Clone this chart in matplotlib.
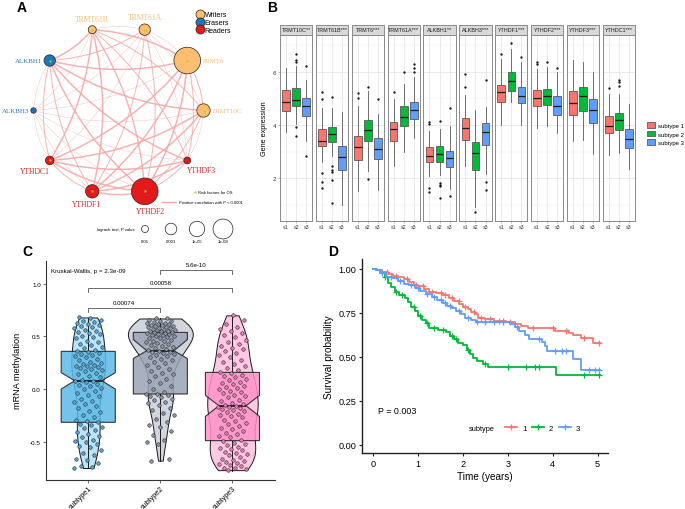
import numpy as np
import matplotlib
matplotlib.use("Agg")
import matplotlib.pyplot as plt
from matplotlib.patches import Circle, FancyArrowPatch, Rectangle, Patch
from matplotlib.lines import Line2D

plt.rcParams["font.family"] = ["Liberation Sans", "DejaVu Sans"]
plt.rcParams["axes.unicode_minus"] = False

# ======================= DATA =======================
# ---- Panel A: network ----
net_genes = ["TRMT61B", "TRMT61A", "TRMT6", "TRMT10C", "YTHDF3",
             "YTHDF2", "YTHDF1", "YTHDC1", "ALKBH3", "ALKBH1"]
net_roles = ["Writers", "Writers", "Writers", "Writers", "Readers",
             "Readers", "Readers", "Readers", "Erasers", "Erasers"]
logrank_p = [2.5e-2, 1.2e-3, 1.6e-14, 1.3e-4, 5.5e-2,
             1.6e-14, 1.3e-4, 1.6e-2, 1.4e-1, 1.2e-3]
edge_from = ["TRMT61B", "TRMT61B", "TRMT61B", "TRMT61B", "TRMT61B", "TRMT61B", "TRMT61B", "TRMT61B", "TRMT61B",
             "TRMT61A", "TRMT61A", "TRMT61A", "TRMT61A", "TRMT61A", "TRMT61A", "TRMT61A", "TRMT61A",
             "TRMT6", "TRMT6", "TRMT6", "TRMT6", "TRMT6", "TRMT6", "TRMT6",
             "TRMT10C", "TRMT10C", "TRMT10C", "TRMT10C", "TRMT10C", "TRMT10C",
             "YTHDF3", "YTHDF3", "YTHDF3", "YTHDF3", "YTHDF3",
             "YTHDF2", "YTHDF2", "YTHDF2", "YTHDF2",
             "YTHDF1", "YTHDF1", "YTHDF1",
             "YTHDC1", "YTHDC1", "ALKBH3"]
edge_to = ["TRMT61A", "TRMT6", "TRMT10C", "YTHDF3", "YTHDF2", "YTHDF1", "YTHDC1", "ALKBH3", "ALKBH1",
           "TRMT6", "TRMT10C", "YTHDF3", "YTHDF2", "YTHDF1", "YTHDC1", "ALKBH3", "ALKBH1",
           "TRMT10C", "YTHDF3", "YTHDF2", "YTHDF1", "YTHDC1", "ALKBH3", "ALKBH1",
           "YTHDF3", "YTHDF2", "YTHDF1", "YTHDC1", "ALKBH3", "ALKBH1",
           "YTHDF2", "YTHDF1", "YTHDC1", "ALKBH3", "ALKBH1",
           "YTHDF1", "YTHDC1", "ALKBH3", "ALKBH1",
           "YTHDC1", "ALKBH3", "ALKBH1",
           "ALKBH3", "ALKBH1", "ALKBH1"]
edge_rho = [0.35, 0.65, 0.50, 0.50, 0.62, 0.65, 0.65, 0.35, 0.65,
            0.35, 0.35, 0.35, 0.50, 0.50, 0.35, 0.35, 0.50,
            0.50, 0.50, 0.65, 0.65, 0.65, 0.35, 0.65,
            0.35, 0.50, 0.65, 0.65, 0.35, 0.65,
            0.50, 0.65, 0.65, 0.35, 0.65,
            0.65, 0.65, 0.35, 0.65,
            0.50, 0.35, 0.50,
            0.35, 0.50, 0.35]
size_legend_p = [0.05, 0.001, 1e-5, 1e-8]
size_legend_labels = ["0.05", "0.001", "1e-05", "1e-08"]

# ---- Panel B: boxplots ----
b_genes = ["TRMT10C**", "TRMT61B***", "TRMT6***", "TRMT61A***", "ALKBH1**",
           "ALKBH3***", "YTHDF1***", "YTHDF2***", "YTHDF3***", "YTHDC1***"]
b_groups = ["s1", "s2", "s3"]
b_med = [[4.88, 4.95, 4.72], [3.41, 3.66, 2.81], [3.19, 3.81, 3.10], [3.85, 4.29, 4.58],
         [2.83, 2.91, 2.75], [3.89, 2.94, 3.73], [5.23, 5.64, 5.10], [5.01, 5.08, 4.73],
         [4.83, 5.08, 4.58], [3.95, 4.19, 3.48]]
b_q1 = [[4.54, 4.73, 4.35], [3.22, 3.35, 2.33], [2.70, 3.41, 2.72], [3.40, 3.95, 4.23],
        [2.60, 2.63, 2.41], [3.45, 2.33, 3.26], [4.85, 5.29, 4.81], [4.70, 4.75, 4.39],
        [4.39, 4.51, 4.08], [3.69, 3.81, 3.13]]
b_q3 = [[5.33, 5.38, 5.01], [3.85, 3.94, 3.22], [3.58, 4.19, 3.53], [4.10, 4.73, 4.85],
        [3.16, 3.20, 3.04], [4.25, 3.35, 4.08], [5.51, 5.98, 5.44], [5.31, 5.35, 5.08],
        [5.29, 5.41, 4.98], [4.33, 4.44, 3.85]]
b_lo = [[3.73, 4.04, 3.41], [2.60, 2.85, 1.01], [1.54, 2.29, 1.58], [2.45, 3.00, 3.50],
        [2.08, 2.13, 1.60], [2.48, 0.91, 2.16], [4.00, 4.88, 4.00], [3.88, 3.95, 3.69],
        [3.39, 3.45, 2.91], [2.89, 2.95, 2.35]]
b_hi = [[6.16, 6.20, 5.70], [4.63, 4.63, 4.48], [4.70, 5.29, 4.41], [4.98, 5.54, 5.79],
        [3.79, 3.85, 3.95], [5.13, 4.58, 4.66], [6.48, 6.85, 6.35], [6.10, 6.19, 5.98],
        [6.45, 6.35, 5.98], [5.16, 5.16, 4.79]]
b_out = [[[], [6.66, 6.45, 6.38, 3.94, 3.60], [6.20, 2.85]],
         [[5.25, 4.97, 2.20, 1.85, 1.64], [5.04, 2.47, 2.33, 2.25, 1.93, 1.07], []],
         [[5.20, 5.00], [5.44, 1.98], [4.98]],
         [[5.25], [6.00], [6.29, 6.13, 5.98]],
         [[4.10, 4.04, 1.63, 1.48], [4.16, 1.83, 1.75, 1.70, 1.25], [4.64, 1.35]],
         [[5.91, 5.41], [0.73], [5.69, 1.88, 1.58]],
         [[6.66], [7.08], [6.56]],
         [[6.38, 6.28], [6.38], [6.16]],
         [[], [], []],
         [[5.38], [5.70, 5.60, 5.45], []]]
b_legend = ["subtype 1", "subtype 2", "subtype 3"]

# ---- Panel C: methylation ----
c_groups = ["subtype1", "subtype2", "subtype3"]
meth_s1 = [-0.75, -0.74, -0.73, -0.70, -0.67, -0.66, -0.63, -0.61, -0.58, -0.55, -0.54, -0.52, -0.50,
           -0.49, -0.48, -0.46, -0.45, -0.43, -0.41, -0.39, -0.37, -0.36, -0.34, -0.33, -0.31,
           -0.30, -0.29, -0.27, -0.25, -0.22, -0.21, -0.18, -0.16, -0.14, -0.12, -0.11, -0.09,
           -0.07, -0.06, -0.04, -0.02, 0.00, 0.01, 0.03, 0.04, 0.05, 0.07, 0.08, 0.08,
           0.09, 0.11, 0.12, 0.14, 0.15, 0.17, 0.18, 0.19, 0.20, 0.21, 0.22, 0.22, 0.23, 0.24,
           0.25, 0.26, 0.28, 0.29, 0.30, 0.31, 0.32, 0.33, 0.34, 0.35, 0.36,
           0.37, 0.39, 0.40, 0.42, 0.43, 0.45, 0.46, 0.48, 0.49, 0.50, 0.52, 0.53, 0.54, 0.55,
           0.56, 0.58, 0.59, 0.60, 0.61, 0.62, 0.63, 0.64, 0.65, 0.66, 0.67, 0.68]
meth_s2 = [-0.68, -0.66, -0.52, -0.50, -0.48, -0.44, -0.40, -0.36, -0.34, -0.31, -0.28, -0.25,
           -0.23, -0.20, -0.18, -0.15, -0.13, -0.12, -0.10, -0.09, -0.08, -0.07, -0.06, -0.05, -0.05,
           -0.03, 0.00, 0.03, 0.06, 0.08, 0.10, 0.12, 0.14, 0.15, 0.17, 0.19, 0.21, 0.23, 0.25,
           0.26, 0.28, 0.29, 0.30, 0.31, 0.32, 0.33, 0.34, 0.35, 0.35, 0.36,
           0.37, 0.38, 0.39, 0.40, 0.41, 0.42, 0.43, 0.44, 0.45, 0.46, 0.46, 0.47, 0.48, 0.48,
           0.49, 0.50, 0.50, 0.51, 0.51, 0.52, 0.52, 0.53, 0.53, 0.54, 0.54,
           0.55, 0.55, 0.55, 0.56, 0.56, 0.57, 0.57, 0.58, 0.58, 0.59, 0.59, 0.60, 0.60, 0.61,
           0.61, 0.62, 0.62, 0.63, 0.63, 0.64, 0.65, 0.65, 0.66, 0.67, 0.67]
meth_s3 = [-0.77, -0.76, -0.75, -0.75, -0.73, -0.72, -0.71, -0.70, -0.69, -0.68, -0.67, -0.66,
           -0.65, -0.63, -0.62, -0.61, -0.60, -0.58, -0.57, -0.56, -0.55, -0.53, -0.52, -0.51, -0.49,
           -0.48, -0.46, -0.45, -0.43, -0.42, -0.40, -0.38, -0.37, -0.35, -0.33, -0.32, -0.30,
           -0.29, -0.27, -0.26, -0.25, -0.24, -0.22, -0.21, -0.20, -0.19, -0.18, -0.17, -0.17, -0.16,
           -0.15, -0.14, -0.13, -0.11, -0.10, -0.08, -0.07, -0.06, -0.04, -0.03, -0.02, 0.00,
           0.01, 0.02, 0.03, 0.05, 0.06, 0.07, 0.09, 0.10, 0.11, 0.12, 0.13, 0.15, 0.16,
           0.18, 0.20, 0.22, 0.24, 0.26, 0.28, 0.30, 0.32, 0.34, 0.36, 0.38, 0.39, 0.41, 0.43,
           0.45, 0.47, 0.49, 0.51, 0.53, 0.55, 0.57, 0.59, 0.62, 0.66, 0.70]
c_med = [0.079, 0.364, -0.158]
c_q1 = [-0.316, -0.047, -0.49]
c_q3 = [0.358, 0.538, 0.158]
c_lo = [-0.753, -0.68, -0.775]
c_hi = [0.674, 0.671, 0.70]
c_ci_lo = [0.00, 0.29, -0.26]
c_ci_hi = [0.155, 0.47, -0.06]
c_pairs = [(2, 3), (1, 3), (1, 2)]
c_pair_p = ["5.6e-10", "0.00058", "0.00074"]
c_pair_y = [1.13, 0.96, 0.77]
kw_text = "Kruskal-Wallis, p = 2.3e-09"

# ---- Panel D: Kaplan-Meier ----
km_labels = ["1", "2", "3"]
km1_t = [0.08, 0.20, 0.32, 0.45, 0.55, 0.68, 0.80, 0.90, 1.00, 1.12, 1.25, 1.40, 1.55, 1.68, 1.80,
         1.92, 2.00, 2.10, 2.18, 2.26, 2.34, 2.50, 2.70, 2.95, 3.15, 3.30, 3.45, 4.05, 4.35, 4.45,
         4.62, 4.90]
km1_s = [0.990, 0.980, 0.970, 0.960, 0.950, 0.940, 0.925, 0.910, 0.900, 0.885, 0.870, 0.860, 0.848,
         0.835, 0.818, 0.800, 0.785, 0.770, 0.755, 0.740, 0.722, 0.712, 0.705, 0.697, 0.685, 0.674,
         0.661, 0.648, 0.635, 0.622, 0.605, 0.578]
km1_cens = [0.30, 0.50, 0.75, 0.95, 1.10, 1.30, 1.50, 1.60, 1.75, 1.90, 2.05, 2.25, 2.40, 2.60,
            2.80, 2.90, 3.05, 3.55, 4.00, 4.30, 4.70, 5.02]
km2_t = [0.05, 0.15, 0.25, 0.33, 0.40, 0.48, 0.58, 0.70, 0.78, 0.85, 0.92, 1.00, 1.08, 1.18, 1.25,
         1.45, 1.62, 1.70, 1.80, 1.88, 2.00, 2.08, 2.15, 2.22, 2.30, 2.45, 2.56, 4.08]
km2_s = [0.990, 0.975, 0.950, 0.920, 0.895, 0.870, 0.850, 0.835, 0.810, 0.785, 0.760, 0.730, 0.710,
         0.690, 0.665, 0.652, 0.640, 0.620, 0.600, 0.580, 0.565, 0.540, 0.515, 0.495, 0.478, 0.460,
         0.442, 0.398]
km2_cens = [0.25, 0.50, 0.65, 0.90, 1.05, 1.20, 1.35, 1.55, 1.75, 1.85, 2.10, 2.50, 3.00, 3.40,
            3.60, 3.70, 4.70, 5.02]
km3_t = [0.06, 0.15, 0.28, 0.42, 0.55, 0.68, 0.80, 0.93, 1.05, 1.18, 1.30, 1.42, 1.55, 1.65, 1.75,
         1.85, 1.95, 2.04, 2.18, 2.28, 3.05, 3.15, 3.25, 3.38, 3.48, 3.75, 3.82, 3.88, 4.45, 4.62]
km3_s = [0.990, 0.975, 0.955, 0.945, 0.930, 0.915, 0.905, 0.890, 0.872, 0.855, 0.838, 0.820, 0.805,
         0.790, 0.775, 0.760, 0.742, 0.722, 0.710, 0.698, 0.685, 0.668, 0.648, 0.625, 0.602, 0.582,
         0.560, 0.532, 0.487, 0.425]
km3_cens = [0.20, 0.40, 0.60, 0.85, 1.00, 1.20, 1.35, 1.50, 1.60, 1.70, 1.90, 2.10, 2.30, 2.50,
            2.70, 2.90, 3.20, 3.70, 4.05, 4.20, 4.30, 4.80, 4.95, 5.03]
km_end = 5.05
km_pval = "P = 0.003"

# ======================= FIGURE =======================
W, H = 685, 510
fig = plt.figure(figsize=(W / 100, H / 100), dpi=100)
fig.patch.set_facecolor("white")


def px_axes(x0, y0, x1, y1):
    return fig.add_axes([x0 / W, 1 - y1 / H, (x1 - x0) / W, (y1 - y0) / H])


# ---------------- Panel A ----------------
role_fill = {"Writers": "#FDBF6F", "Erasers": "#1F78B4", "Readers": "#E31A1C"}
role_text = {"Writers": "#F6BE78", "Erasers": "#2A7AB5", "Readers": "#D42222"}
serif = ["Liberation Serif", "DejaVu Serif"]
edge_col = "#F5A5A3"

axA = px_axes(0, 0, 270, 250)
axA.set_xlim(0, 270)
axA.set_ylim(250, 0)
axA.axis("off")

cx, cy, R = 118.5, 111.5, 85
n = len(net_genes)
ang = np.deg2rad(-18 + 36 * np.arange(n))
nx = cx + R * np.sin(ang)
ny = cy - R * np.cos(ang)


def node_r(p):
    return 3.8 * np.sqrt(-np.log10(np.asarray(p, float))) - 0.8


nr = node_r(logrank_p)
idx = {g: i for i, g in enumerate(net_genes)}
for a, b, rho in zip(edge_from, edge_to, edge_rho):
    i, j = idx[a], idx[b]
    axA.add_patch(FancyArrowPatch((nx[i], ny[i]), (nx[j], ny[j]),
                                  connectionstyle="arc3,rad=-0.13", arrowstyle="-",
                                  lw=(rho - 0.25) * 2.7, color=edge_col, alpha=0.85,
                                  shrinkA=0, shrinkB=0, zorder=1))
for i, g in enumerate(net_genes):
    role = net_roles[i]
    axA.add_patch(Circle((nx[i], ny[i]), nr[i], facecolor=role_fill[role],
                         edgecolor="#222222", lw=0.5, zorder=3))
    if logrank_p[i] < 0.05:
        axA.plot(nx[i], ny[i], "s", ms=1.4, color="#A6D42A", mec="none", zorder=4)
    dx, dy = np.sin(ang[i]), -np.cos(ang[i])
    if dy < -0.7:
        axA.text(nx[i], ny[i] - nr[i] - 3, g, ha="center", va="bottom",
                 color=role_text[role], fontsize=5.5, family=serif)
    elif dy > 0.5:
        axA.text(nx[i] + dx * 18, ny[i] + nr[i] + 2, g, ha="center", va="top",
                 color=role_text[role], fontsize=5.5, family=serif)
    else:
        axA.text(nx[i] + np.sign(dx) * (nr[i] + 1.8), ny[i], g,
                 ha="left" if dx > 0 else "right", va="center",
                 color=role_text[role], fontsize=5.0, family=serif)

role_handles = [Line2D([], [], ls="none", marker="o", ms=6.5, mfc=role_fill[r],
                       mec="#222222", mew=0.5) for r in ["Writers", "Erasers", "Readers"]]
leg1 = axA.legend(role_handles, ["Writers", "Erasers", "Readers"], loc="upper left",
                  bbox_to_anchor=(192 / 270, 1 - 9 / 250), frameon=False, fontsize=5.0,
                  handletextpad=0.1, labelspacing=0.1, borderpad=0, handlelength=1.2)
axA.add_artist(leg1)
leg2 = axA.legend([Line2D([], [], ls="none", marker="s", ms=1.5, mfc="#A6D42A", mec="none")],
                  ["Risk factors for OS"], loc="center left",
                  bbox_to_anchor=(192 / 270, 1 - 193 / 250), frameon=False, fontsize=3.0,
                  handlelength=1.2, handletextpad=0.3, borderpad=0, borderaxespad=0)
axA.add_artist(leg2)
axA.legend([Line2D([], [], color=edge_col, lw=1.0)],
           ["Positive correlation with P < 0.0001"], loc="center left",
           bbox_to_anchor=(162 / 270, 1 - 203 / 250), frameon=False, fontsize=3.0,
           handlelength=3.4, handletextpad=0.7, borderpad=0, borderaxespad=0)

axA.text(115.5, 230, "logrank test, P value", ha="center", va="center", fontsize=3.1)
for k, (p, lab) in enumerate(zip(size_legend_p, size_legend_labels)):
    x = 145 + 26 * k
    axA.add_patch(Circle((x, 230), node_r(p), facecolor="white", edgecolor="#222222", lw=0.5))
    axA.text(x, 242, lab, ha="center", va="center", fontsize=3.1)

# ---------------- Panel B ----------------
sub_cols = ["#F8766D", "#00BA38", "#619CFF"]
b_x0, b_w, b_step, b_top, b_bot, strip_h = 280.0, 32.3, 35.86, 36.0, 222.0, 10.0
for k, gname in enumerate(b_genes):
    x0 = b_x0 + k * b_step
    ax = px_axes(x0, b_top, x0 + b_w, b_bot)
    ax.set_xlim(0.4, 3.6)
    ax.set_ylim(0.4, 7.38)
    for yv in [1, 3, 5, 7]:
        ax.axhline(yv, color="#F2F2F2", lw=0.35, zorder=0)
    for yv in [2, 4, 6]:
        ax.axhline(yv, color="#E6E6E6", lw=0.6, zorder=0)
    for xv in [1, 2, 3]:
        ax.axvline(xv, color="#E6E6E6", lw=0.6, zorder=0)
    stats = []
    for j in range(3):
        stats.append(dict(med=b_med[k][j], q1=b_q1[k][j], q3=b_q3[k][j],
                          whislo=b_lo[k][j], whishi=b_hi[k][j], fliers=b_out[k][j]))
    bp = ax.bxp(stats, positions=[1, 2, 3], widths=0.75, patch_artist=True, showcaps=False,
                boxprops=dict(edgecolor="#5A5A5A", lw=0.6),
                whiskerprops=dict(color="#5A5A5A", lw=0.6),
                medianprops=dict(color="#1A1A1A", lw=0.9),
                flierprops=dict(marker="o", ms=1.7, mfc="#1A1A1A", mec="none"))
    for patch, c in zip(bp["boxes"], sub_cols):
        patch.set_facecolor(c)
        patch.set_zorder(2)
    for sp in ax.spines.values():
        sp.set_color("#8A8A8A")
        sp.set_linewidth(0.7)
    ax.set_xticks([1, 2, 3])
    ax.set_xticklabels(b_groups, fontsize=3.8, color="#333333")
    ax.tick_params(axis="x", length=1.5, width=0.4, color="#8A8A8A", pad=1)
    if k == 0:
        ax.set_yticks([2, 4, 6])
        ax.set_yticklabels(["2", "4", "6"], fontsize=4.5, color="#333333")
        ax.tick_params(axis="y", length=1.5, width=0.4, color="#8A8A8A", pad=1)
    else:
        ax.set_yticks([])
    hfrac = strip_h / (b_bot - b_top)
    ax.add_patch(Rectangle((0, 1), 1, hfrac, transform=ax.transAxes, clip_on=False,
                           facecolor="#D9D9D9", edgecolor="#8A8A8A", lw=0.7))
    ax.text(0.5, 1 + hfrac / 2, gname, transform=ax.transAxes, ha="center", va="center",
            fontsize=3.9, color="#1A1A1A")

fig.text(264 / W, 1 - 129 / H, "Gene expression", rotation=90, ha="center", va="center",
         fontsize=5.2)
b_handles = [Patch(facecolor=c, edgecolor="#5A5A5A", lw=0.6) for c in sub_cols]
fig.legend(b_handles, b_legend, loc="center left", bbox_to_anchor=(644 / W, 1 - 134.7 / H),
           frameon=False, fontsize=4.3, handlelength=1.3, handleheight=1.0,
           handletextpad=0.5, labelspacing=0.45, borderpad=0)

# ---------------- Panel C ----------------
c_violin = ["#BCE3F6", "#D1D5DD", "#FFC9E4"]
c_box = ["#5DB9E7", "#9AA3B5", "#FF92CA"]
c_pts = ["#52ACDD", "#8E97AB", "#F07BB7"]
axC = px_axes(45.7, 262, 275, 480.7)
axC.set_xlim(0.41, 3.59)
axC.set_ylim(-0.861, 1.216)
data_c = [meth_s1, meth_s2, meth_s3]
vp = axC.violinplot(data_c, positions=[1, 2, 3], widths=[0.47, 0.9, 0.7],
                    showextrema=False, bw_method=0.33)
for body, c in zip(vp["bodies"], c_violin):
    body.set_facecolor(c)
    body.set_edgecolor("#1A1A1A")
    body.set_linewidth(0.7)
    body.set_alpha(1)
    body.set_zorder(1)
cstats = [dict(med=c_med[i], q1=c_q1[i], q3=c_q3[i], whislo=c_lo[i], whishi=c_hi[i],
               cilo=c_ci_lo[i], cihi=c_ci_hi[i], fliers=[]) for i in range(3)]
bpc = axC.bxp(cstats, positions=[1, 2, 3], widths=0.75, patch_artist=True, shownotches=True,
              showcaps=False, showfliers=False,
              boxprops=dict(edgecolor="#1A1A1A", lw=0.8),
              whiskerprops=dict(color="#1A1A1A", lw=0.7),
              medianprops=dict(color="#1A1A1A", lw=1.3))
for patch, c in zip(bpc["boxes"], c_box):
    patch.set_facecolor(c)
    patch.set_alpha(0.85)
    patch.set_edgecolor("#1A1A1A")
    patch.set_zorder(2)
golden = 0.6180339887
for g, (vals, c) in enumerate(zip(data_c, c_pts)):
    m = len(vals)
    jit = ((np.arange(m) * golden + 0.17 * g) % 1.0) * 2 - 1
    axC.scatter(g + 1 + 0.2 * jit, vals, s=6.5, color=c, edgecolors="#2A2A2A",
                linewidths=0.4, zorder=4)
for (a, b), lab, yv in zip(c_pairs, c_pair_p, c_pair_y):
    axC.plot([a, a, b, b], [yv - 0.035, yv, yv, yv - 0.035], color="#555555", lw=0.6,
             clip_on=False)
    axC.text((a + b) / 2, yv + 0.025, lab, ha="center", va="bottom", fontsize=4.4)
axC.text(0.48, 1.13, kw_text, ha="left", va="center", fontsize=4.5)
for s in ["top", "right"]:
    axC.spines[s].set_visible(False)
for s in ["left", "bottom"]:
    axC.spines[s].set_color("#333333")
    axC.spines[s].set_linewidth(0.8)
axC.set_yticks([-0.5, 0.0, 0.5, 1.0])
axC.set_yticklabels(["-0.5", "0.0", "0.5", "1.0"], fontsize=4.5)
axC.set_xticks([1, 2, 3])
axC.set_xticklabels(c_groups, rotation=45, ha="right", rotation_mode="anchor", fontsize=5.2)
axC.tick_params(length=2, width=0.5, color="#333333", pad=1.5)
axC.set_ylabel("mRNA methylation", fontsize=6.6, labelpad=6)

# ---------------- Panel D ----------------
km_cols = ["#F8766D", "#00BA38", "#619CFF"]
axD = px_axes(362.3, 260, 608, 454)
axD.set_xlim(-0.245, 5.23)
axD.set_ylim(-0.047, 1.055)
km_sets = [(km1_t, km1_s, km1_cens), (km2_t, km2_s, km2_cens), (km3_t, km3_s, km3_cens)]
for (t, s, cens), c in zip(km_sets, km_cols):
    tt = np.concatenate([[0.0], t, [km_end]])
    ss = np.concatenate([[1.0], s, [s[-1]]])
    axD.step(tt, ss, where="post", color=c, lw=1.3)
    cs = ss[np.searchsorted(tt, cens, side="right") - 1]
    axD.plot(cens, cs, ls="none", marker="+", ms=4, mew=0.9, color=c)
for s in ["top", "right"]:
    axD.spines[s].set_visible(False)
for s in ["left", "bottom"]:
    axD.spines[s].set_color("#222222")
    axD.spines[s].set_linewidth(1.0)
axD.set_xticks([0, 1, 2, 3, 4, 5])
axD.set_yticks([0, 0.25, 0.5, 0.75, 1.0])
axD.set_yticklabels(["0.00", "0.25", "0.50", "0.75", "1.00"])
axD.tick_params(labelsize=6.6, length=2.5, width=0.8, color="#222222", pad=2)
axD.set_xlabel("Time (years)", fontsize=7.2, labelpad=2)
axD.set_ylabel("Survival probability", fontsize=7.2, labelpad=3)
axD.text(0.1, 0.193, km_pval, ha="left", va="center", fontsize=6.4)
axD.text(2.13, 0.095, "subtype", ha="left", va="center", fontsize=5.3)
km_handles = [Line2D([], [], color=c, lw=1.3, marker="+", ms=4, mew=0.9) for c in km_cols]
axD.legend(km_handles, km_labels, loc="center left",
           bbox_to_anchor=((505 - 362.3) / (608 - 362.3), (454 - 429) / 194),
           ncol=3, frameon=False, fontsize=5.6, handlelength=1.6, handletextpad=0.6,
           columnspacing=0.7, borderpad=0, borderaxespad=0)

# ---------------- panel letters ----------------
for lab, x, y in [("A", 22, 8), ("B", 272, 8), ("C", 27, 252), ("D", 333, 252)]:
    fig.text(x / W, 1 - y / H, lab, fontsize=10, fontweight="bold", ha="center", va="center")

fig.savefig("out.png", dpi=100)
